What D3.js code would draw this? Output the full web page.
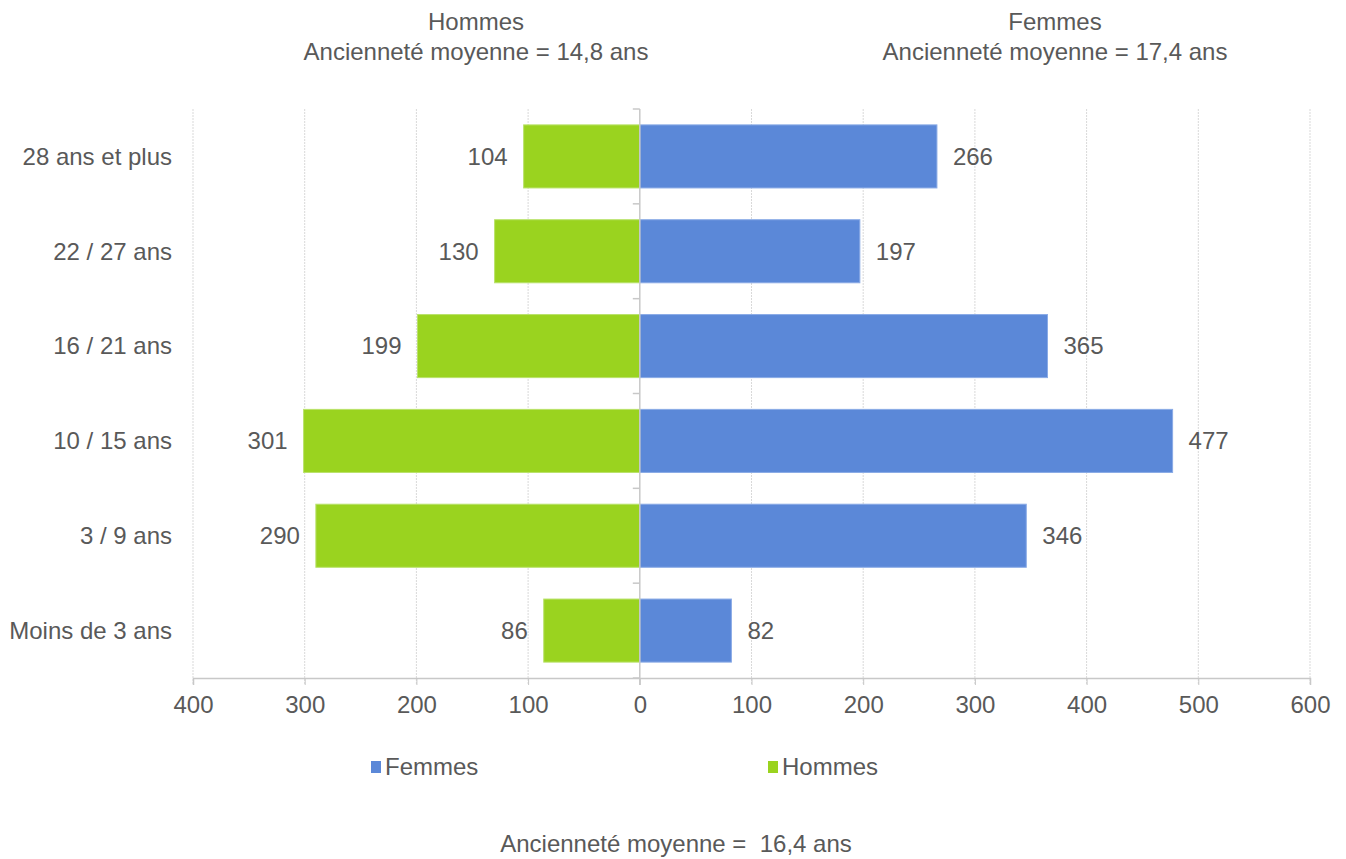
<!DOCTYPE html>
<html><head><meta charset="utf-8">
<script src="https://cdn.jsdelivr.net/npm/d3@7"></script>
<style>
body{margin:0;background:#fff;}
text{font-family:"Liberation Sans",Arial,sans-serif;fill:#595959;}
</style></head>
<body><svg id="c" width="1346" height="859"></svg>
<script>
const categories = ["28 ans et plus","22 / 27 ans","16 / 21 ans","10 / 15 ans","3 / 9 ans","Moins de 3 ans"];
const hommes = [104,130,199,301,290,86];
const femmes = [266,197,365,477,346,82];
const tickValues = [-400,-300,-200,-100,0,100,200,300,400,500,600];
const seriesNames = ["Femmes","Hommes"];
const colors = {Femmes:"#5b88d8", Hommes:"#9ad31f"};
const strokes = {Femmes:"#8aabe6", Hommes:"#b9e26a"};
const titles = [["Hommes","Ancienneté moyenne = 14,8 ans"],["Femmes","Ancienneté moyenne = 17,4 ans"]];
const footer = "Ancienneté moyenne =  16,4 ans";

const svg = d3.select("#c");
const x = d3.scaleLinear().domain([-400,600]).range([193,1310]);
const y = d3.scaleBand().domain(categories).range([109,678]).paddingInner(0.335).paddingOuter(0.1675);
const fs = 24;

// gridlines
svg.append("g").selectAll("line").data(tickValues.filter(v=>v!==0)).join("line")
  .attr("x1",d=>x(d)).attr("x2",d=>x(d)).attr("y1",109).attr("y2",685)
  .attr("stroke","#d9d9d9").attr("stroke-width",1).attr("stroke-dasharray","2,1");

// bottom axis
const ax = svg.append("g").attr("transform","translate(0,678)")
  .call(d3.axisBottom(x).tickValues(tickValues).tickSize(7).tickPadding(11).tickFormat(d=>Math.abs(d)));
ax.select(".domain").attr("stroke","#c8c8c8").attr("stroke-width",1.5);
ax.selectAll(".tick line").attr("stroke","#c8c8c8");
ax.selectAll("text").attr("font-size",fs).attr("fill","#595959").style("font-family","Liberation Sans, Arial, sans-serif");

// bars
const bars = svg.append("g");
bars.selectAll(".h").data(hommes).join("rect")
  .attr("x",d=>x(-d)).attr("width",d=>x(0)-x(-d))
  .attr("y",(d,i)=>y(categories[i])).attr("height",y.bandwidth())
  .attr("fill",colors.Hommes).attr("stroke",strokes.Hommes).attr("stroke-width",1);
bars.selectAll(".f").data(femmes).join("rect")
  .attr("x",x(0)).attr("width",d=>x(d)-x(0))
  .attr("y",(d,i)=>y(categories[i])).attr("height",y.bandwidth())
  .attr("fill",colors.Femmes).attr("stroke",strokes.Femmes).attr("stroke-width",1);

// center axis
const cy = svg.append("g");
cy.append("line").attr("x1",x(0)).attr("x2",x(0)).attr("y1",109).attr("y2",685)
  .attr("stroke","#c8c8c8").attr("stroke-width",1.5);
const bounds = d3.range(categories.length+1).map(i=>109 + i*(678-109)/categories.length);
cy.selectAll(".t").data(bounds).join("line")
  .attr("x1",x(0)-7).attr("x2",x(0)).attr("y1",d=>d).attr("y2",d=>d)
  .attr("stroke","#c8c8c8").attr("stroke-width",1.5);

// category labels
svg.append("g").selectAll("text").data(categories).join("text")
  .attr("x",172).attr("y",d=>y(d)+y.bandwidth()/2).attr("dy","0.35em")
  .attr("text-anchor","end").attr("font-size",fs).text(d=>d);

// data labels
svg.append("g").selectAll("text").data(hommes).join("text")
  .attr("x",d=>x(-d)-16).attr("y",(d,i)=>y(categories[i])+y.bandwidth()/2).attr("dy","0.35em")
  .attr("text-anchor","end").attr("font-size",fs).text(d=>d);
svg.append("g").selectAll("text").data(femmes).join("text")
  .attr("x",d=>x(d)+16).attr("y",(d,i)=>y(categories[i])+y.bandwidth()/2).attr("dy","0.35em")
  .attr("text-anchor","start").attr("font-size",fs).text(d=>d);

// titles
const tx = [476,1055];
titles.forEach((t,i)=>{
  svg.append("text").attr("x",tx[i]).attr("y",30).attr("text-anchor","middle").attr("font-size",fs).text(t[0]);
  svg.append("text").attr("x",tx[i]).attr("y",60).attr("text-anchor","middle").attr("font-size",fs).text(t[1]);
});

// legend
const lx = [371,768];
seriesNames.forEach((s,i)=>{
  svg.append("rect").attr("x",lx[i]).attr("y",761).attr("width",10).attr("height",12).attr("fill",colors[s]);
  svg.append("text").attr("x",lx[i]+14).attr("y",767).attr("dy","0.35em").attr("font-size",fs).text(s);
});

// footer
svg.append("text").attr("x",676).attr("y",852).attr("text-anchor","middle").attr("font-size",fs)
  .style("white-space","pre").text(footer);
</script></body></html>
